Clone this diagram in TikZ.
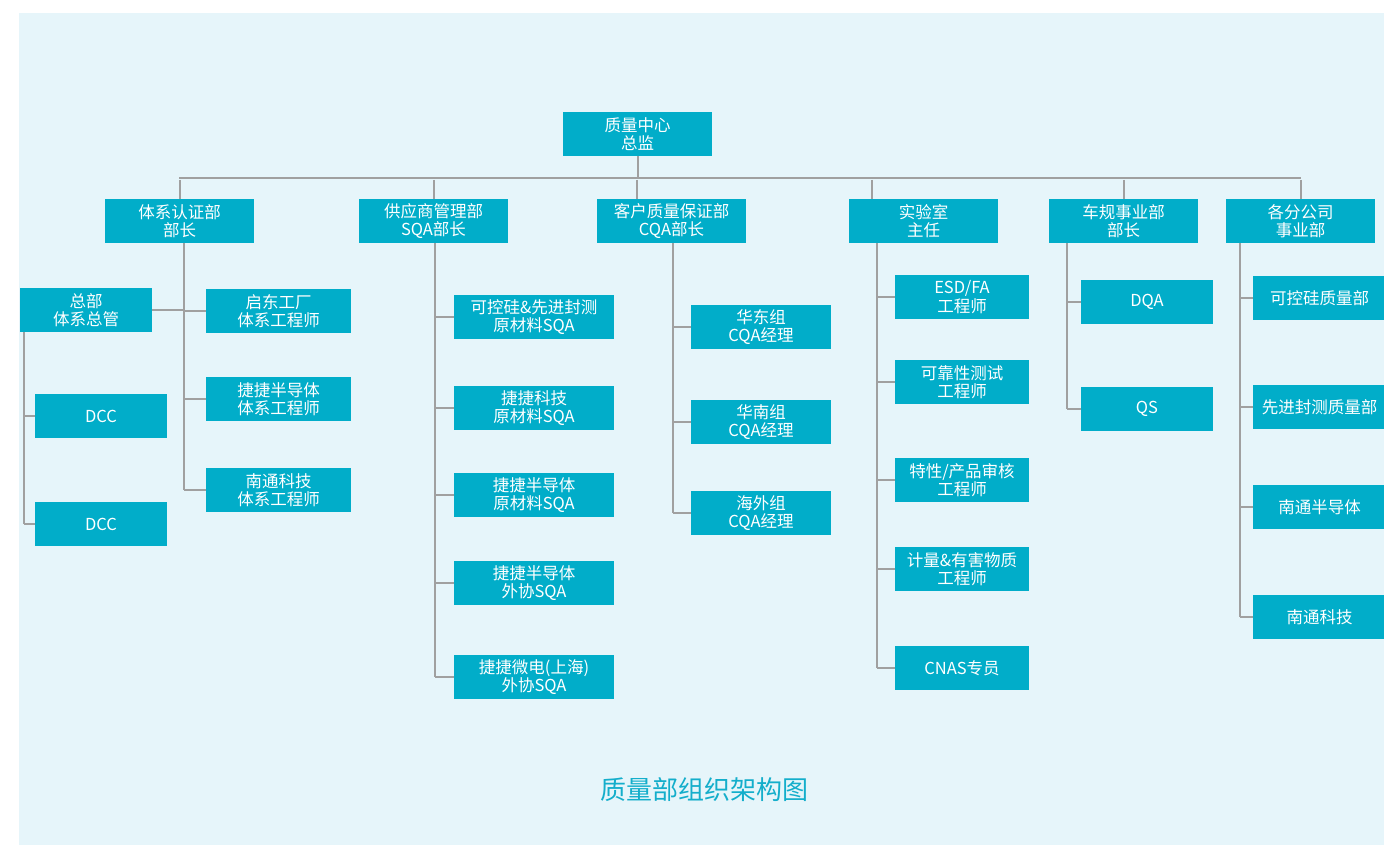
\documentclass[tikz,border=0pt]{standalone}
\usepackage{fontspec}
\newfontfamily\cjk{Noto Sans CJK SC}
\definecolor{bgc}{HTML}{E6F5FA}
\definecolor{boxc}{HTML}{01ADC9}
\definecolor{linec}{HTML}{A0A0A0}
\definecolor{titlec}{HTML}{14AECB}
\begin{document}
\begin{tikzpicture}[x=1pt,y=-1pt,
  box/.style={fill=boxc,text=white,inner sep=0pt,minimum height=44pt,align=center,
    font=\cjk\fontsize{16.5}{18.5}\selectfont},
  conn/.style={draw=linec,line width=2pt}]
\useasboundingbox (0,0) rectangle (1384,845);
\fill[bgc] (19,13) rectangle (1384,845);
% top
\node[box,minimum width=149pt] (top) at (637.5,134) {质量中心\\总监};
% level 2
\node[box,minimum width=149pt] (b1) at (179.5,221) {体系认证部\\部长};
\node[box,minimum width=149pt] (b2) at (433.5,221) {供应商管理部\\SQA部长};
\node[box,minimum width=149pt] (b3) at (671.5,221) {客户质量保证部\\CQA部长};
\node[box,minimum width=149pt] (b4) at (923.5,221) {实验室\\主任};
\node[box,minimum width=149pt] (b5) at (1123.5,221) {车规事业部\\部长};
\node[box,minimum width=149pt] (b6) at (1300.5,221) {各分公司\\事业部};
% column 1
\node[box,minimum width=132pt] (zb) at (86,310) {总部\\体系总管};
\node[box,minimum width=132pt] (dcc1) at (101,416) {DCC};
\node[box,minimum width=132pt] (dcc2) at (101,524) {DCC};
\node[box,minimum width=145pt] (qd) at (278.5,311) {启东工厂\\体系工程师};
\node[box,minimum width=145pt] (jj1) at (278.5,399) {捷捷半导体\\体系工程师};
\node[box,minimum width=145pt] (nt1) at (278.5,490) {南通科技\\体系工程师};
% column 2
\node[box,minimum width=160pt] (s1) at (534,317) {可控硅\&先进封测\\原材料SQA};
\node[box,minimum width=160pt] (s2) at (534,408) {捷捷科技\\原材料SQA};
\node[box,minimum width=160pt] (s3) at (534,495) {捷捷半导体\\原材料SQA};
\node[box,minimum width=160pt] (s4) at (534,583) {捷捷半导体\\外协SQA};
\node[box,minimum width=160pt] (s5) at (534,677) {捷捷微电(上海)\\外协SQA};
% column 3
\node[box,minimum width=140pt] (c1) at (761,327) {华东组\\CQA经理};
\node[box,minimum width=140pt] (c2) at (761,422) {华南组\\CQA经理};
\node[box,minimum width=140pt] (c3) at (761,513) {海外组\\CQA经理};
% column 4
\node[box,minimum width=134pt] (l1) at (962,297) {ESD/FA\\工程师};
\node[box,minimum width=134pt] (l2) at (962,382) {可靠性测试\\工程师};
\node[box,minimum width=134pt] (l3) at (962,480) {特性/产品审核\\工程师};
\node[box,minimum width=134pt] (l4) at (962,569) {计量\&有害物质\\工程师};
\node[box,minimum width=134pt] (l5) at (962,668) {CNAS专员};
% column 5
\node[box,minimum width=132pt] (d1) at (1147,302) {DQA};
\node[box,minimum width=132pt] (d2) at (1147,409) {QS};
% column 6
\node[box,minimum width=133pt] (f1) at (1319.5,298) {可控硅质量部};
\node[box,minimum width=133pt] (f2) at (1319.5,407) {先进封测质量部};
\node[box,minimum width=133pt] (f3) at (1319.5,507) {南通半导体};
\node[box,minimum width=133pt] (f4) at (1319.5,617) {南通科技};
% title
\node[text=titlec,font=\cjk\fontsize{26}{30}\selectfont] (title) at (704,790) {质量部组织架构图};
% bus
\coordinate (busL) at (179,178);
\coordinate (busR) at (1301,178);
\draw[conn] (busL) -- (busR);
\draw[conn] (top.south) -- (top.south |- busL);
\coordinate (t1) at (b1.north);
\coordinate (t2) at (b2.north);
\coordinate (t3) at ([xshift=-34.5pt]b3.north);
\coordinate (t4) at ([xshift=-51.5pt]b4.north);
\coordinate (t5) at (b5.north);
\coordinate (t6) at (b6.north);
\foreach \t in {t1,t2,t3,t4,t5,t6}{
  \draw[conn] ([yshift=-2pt]\t |- busL) -- (\t);
}
% column connectors
\coordinate (v1) at ([xshift=4.5pt]b1.south);
\draw[conn] (v1) -- (v1 |- nt1.west);
\foreach \n in {qd,jj1,nt1}{ \draw[conn] (v1 |- \n.west) -- (\n.west); }
\draw[conn] (zb.east) -- (zb.east -| v1);
\coordinate (v0) at ([xshift=4pt]zb.south west);
\draw[conn] (v0) -- (v0 |- dcc2.west);
\foreach \n in {dcc1,dcc2}{ \draw[conn] (v0 |- \n.west) -- (\n.west); }

\coordinate (v2) at ([xshift=1.5pt]b2.south);
\draw[conn] (v2) -- (v2 |- s5.west);
\foreach \n in {s1,s2,s3,s4,s5}{ \draw[conn] (v2 |- \n.west) -- (\n.west); }

\coordinate (v3) at ([xshift=1.5pt]b3.south);
\draw[conn] (v3) -- (v3 |- c3.west);
\foreach \n in {c1,c2,c3}{ \draw[conn] (v3 |- \n.west) -- (\n.west); }

\coordinate (v4) at ([xshift=28pt]b4.south west);
\draw[conn] (v4) -- (v4 |- l5.west);
\foreach \n in {l1,l2,l3,l4,l5}{ \draw[conn] (v4 |- \n.west) -- (\n.west); }

\coordinate (v5) at ([xshift=18pt]b5.south west);
\draw[conn] (v5) -- (v5 |- d2.west);
\foreach \n in {d1,d2}{ \draw[conn] (v5 |- \n.west) -- (\n.west); }

\coordinate (v6) at ([xshift=14pt]b6.south west);
\draw[conn] (v6) -- (v6 |- f4.west);
\foreach \n in {f1,f2,f3,f4}{ \draw[conn] (v6 |- \n.west) -- (\n.west); }
\end{tikzpicture}
\end{document}
